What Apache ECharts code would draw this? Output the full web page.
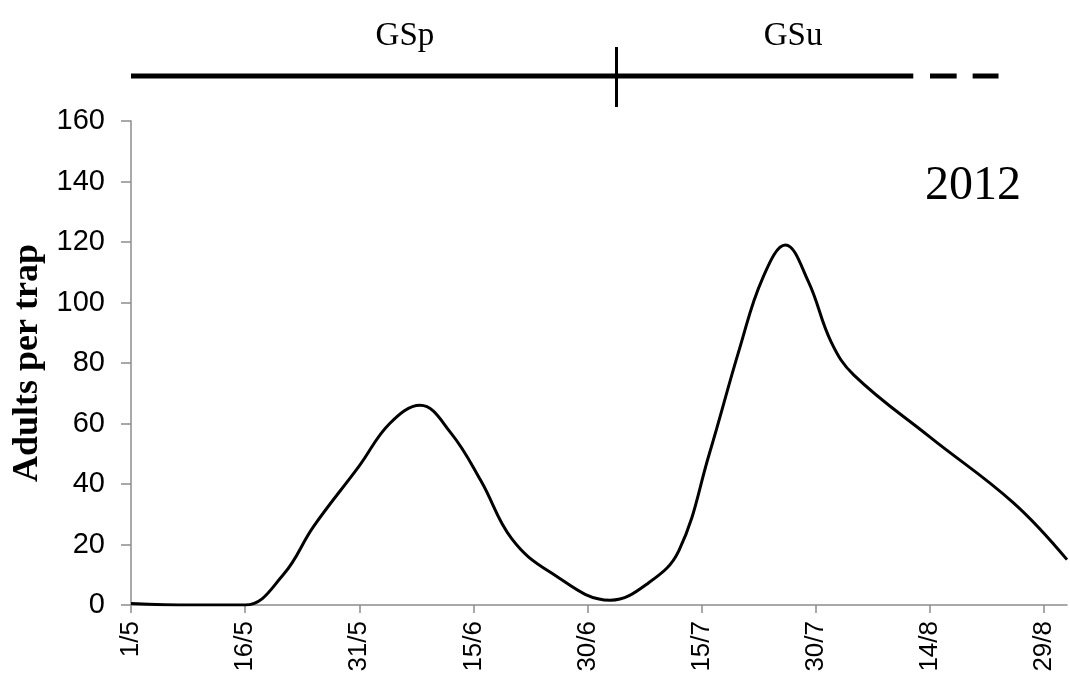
<!DOCTYPE html>
<html>
<head>
<meta charset="utf-8">
<script src="https://cdn.jsdelivr.net/npm/echarts@6/dist/echarts.min.js"></script>
<style>
html,body{margin:0;padding:0;background:#fff;}
#chart{width:1070px;height:682px;}
</style>
</head>
<body>
<div id="chart"></div>
<script>
// Days counted from 1 May 2012
var tickDays = [0, 15, 30, 45, 60, 75, 90, 105, 120];
var tickLabels = ['1/5', '16/5', '31/5', '15/6', '30/6', '15/7', '30/7', '14/8', '29/8'];
var seriesDays = [0, 8, 15, 20, 24, 30, 34, 38, 42, 46, 50, 55, 63, 68, 72, 76, 80, 83, 86, 89, 92, 95, 105, 116, 123];
var adults =     [0.5, 0, 0, 10, 26, 46, 60, 66, 57, 41, 22, 11, 1.6, 7.3, 18, 50, 85, 108, 119, 107, 87, 76, 55.5, 33.7, 15];
var yTicks = [0, 20, 40, 60, 80, 100, 120, 140, 160];
// Phase bar at top (in days)
var phaseSolid = [0, 102.8];
var phaseDashes = [[105, 108.5], [110.6, 114]];
var phaseDivider = 63.8;
var phaseLabels = [{text: 'GSp', day: 36}, {text: 'GSu', day: 87}];
var yearLabel = '2012';

var chart = echarts.init(document.getElementById('chart'));
var data = seriesDays.map(function (d, i) { return [d, adults[i]]; });

chart.setOption({
  animation: false,
  grid: {left: 131, right: 3, top: 121, bottom: 77, containLabel: false, outerBoundsMode: 'none'},
  xAxis: {
    type: 'value', min: 0, max: 123,
    axisLine: {lineStyle: {color: '#8c8c8c', width: 1.5}},
    axisTick: {show: true, length: 8, lineStyle: {color: '#8c8c8c', width: 1.5}, customValues: tickDays},
    axisLabel: {
      rotate: 90, margin: 16, color: '#000', fontFamily: 'Liberation Sans, Arial', fontSize: 26,
      customValues: tickDays,
      formatter: function (v) { var i = tickDays.indexOf(v); return i >= 0 ? tickLabels[i] : ''; }
    },
    splitLine: {show: false}
  },
  yAxis: {
    type: 'value', min: 0, max: 160, interval: 20,
    name: 'Adults per trap', nameLocation: 'middle', nameGap: 71, nameRotate: 90,
    nameTextStyle: {fontFamily: 'Liberation Serif, Times New Roman', fontWeight: 'bold', fontSize: 36, color: '#000'},
    axisLine: {show: true, lineStyle: {color: '#8c8c8c', width: 1.5}},
    axisTick: {show: true, length: 10, lineStyle: {color: '#8c8c8c', width: 1.5}},
    axisLabel: {margin: 26, color: '#000', fontFamily: 'Liberation Sans, Arial', fontSize: 29},
    splitLine: {show: false}
  },
  series: [{
    type: 'line', data: data, smooth: 0.4, showSymbol: false, clip: true,
    lineStyle: {color: '#000', width: 3}
  }]
});

function px(day) { return chart.convertToPixel({xAxisIndex: 0}, day); }
var barY = 76;
var g = [];
g.push({type: 'line', shape: {x1: px(phaseSolid[0]), y1: barY, x2: px(phaseSolid[1]), y2: barY}, style: {stroke: '#000', lineWidth: 5}});
phaseDashes.forEach(function (d) {
  g.push({type: 'line', shape: {x1: px(d[0]), y1: barY, x2: px(d[1]), y2: barY}, style: {stroke: '#000', lineWidth: 5}});
});
g.push({type: 'line', shape: {x1: px(phaseDivider), y1: 47, x2: px(phaseDivider), y2: 107}, style: {stroke: '#000', lineWidth: 3}});
phaseLabels.forEach(function (l) {
  g.push({type: 'text', x: px(l.day), y: 36, style: {text: l.text, fill: '#000', font: '33px "Liberation Serif", "Times New Roman"', align: 'center', verticalAlign: 'middle'}});
});
g.push({type: 'text', x: 973, y: 186, style: {text: yearLabel, fill: '#000', font: '48px "Liberation Serif", "Times New Roman"', align: 'center', verticalAlign: 'middle'}});
chart.setOption({graphic: g});
</script>
</body>
</html>
